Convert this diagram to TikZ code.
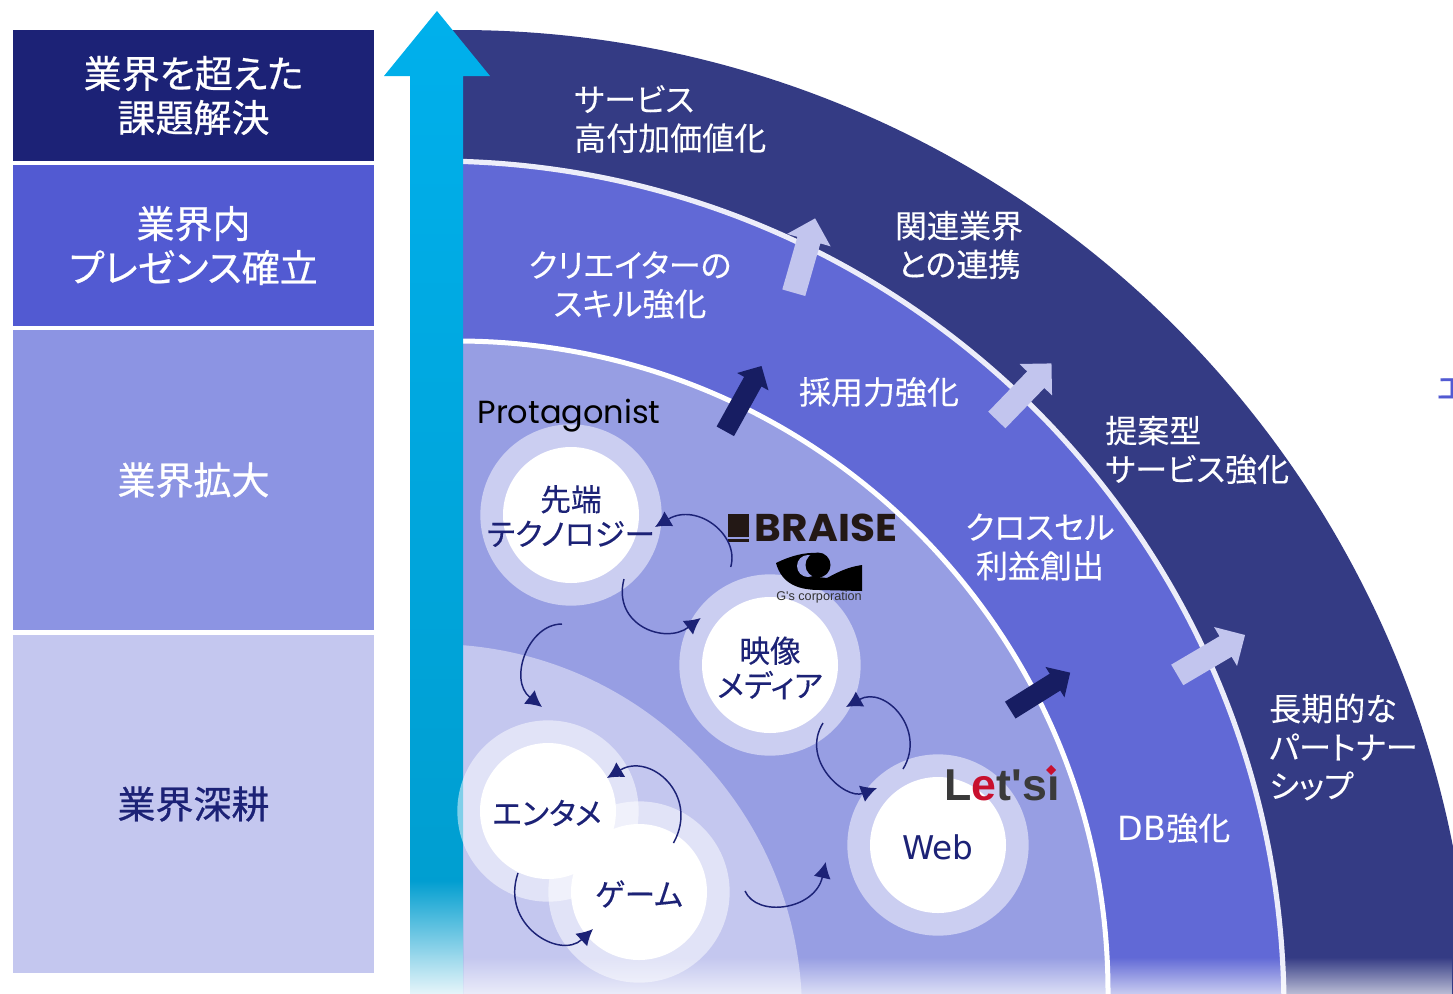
\documentclass[tikz,border=0pt]{standalone}
\usepackage{fontspec}
\usetikzlibrary{arrows.meta, shapes.arrows, fadings}
\setmainfont{Noto Sans CJK JP}[RawFeature=+palt,FakeBold=0.25]
\newfontfamily\stepfont{Noto Sans CJK JP}[RawFeature=+palt,FakeBold=0.6]
\newfontfamily\latinfont{DejaVu Sans}
\newfontfamily\logofont{Poppins}
\newfontfamily\letsfont{Liberation Sans}
\definecolor{navy}{HTML}{1C2276}
\definecolor{bandouter}{HTML}{343B84}
\definecolor{bandmid}{HTML}{6169D6}
\definecolor{bandinner}{HTML}{979EE3}
\definecolor{bandcore}{HTML}{C4C7EF}
\definecolor{stepblue}{HTML}{525AD2}
\definecolor{stepsky}{HTML}{8C94E3}
\definecolor{arrowlight}{HTML}{C2C5EE}
\definecolor{arrowdark}{HTML}{171D62}
\definecolor{risetop}{HTML}{00B0EC}
\definecolor{risefoot}{HTML}{009CCD}
\definecolor{braiseink}{HTML}{231815}
\definecolor{letsgrey}{HTML}{3A3A3A}
\definecolor{letsred}{HTML}{C8102E}
\tikzfading[name=fade south, top color=transparent!100, bottom color=transparent!30]
\tikzfading[name=fade arrow, top color=transparent!100, bottom color=transparent!8]
\tikzset{%
	stepbox/.style={
		minimum width=270.75pt,
		inner sep=0pt,
		text=white,
		align=center,
		font=\stepfont\fontsize{28.5}{33}\selectfont
	},
	bandtext/.style={
		text=white,
		inner sep=0pt,
		font=\fontsize{24}{29}\selectfont
	},
	circtext/.style={
		text=navy,
		inner sep=0pt,
		align=center,
		font=\fontsize{23}{26}\selectfont
	},
	ring/.style={
		circle,
		fill=white,
		fill opacity=.5,
		inner sep=0pt,
		minimum size=136pt
	},
	core/.style={
		circle,
		fill=white,
		inner sep=0pt,
		minimum size=102pt
	},
	growarrow/.style={
		single arrow,
		inner sep=0pt,
		fill=arrowlight,
		text height=17.5pt,
		text depth=0pt,
		minimum width=33.5pt,
		single arrow head extend=8pt,
		single arrow head indent=0pt
	},
	growdark/.style={
		growarrow,
		fill=arrowdark,
		text height=14.5pt,
		minimum width=26.5pt,
		single arrow head extend=6pt
	},
	cyclearrow/.style={
		draw=navy,
		line width=1.1pt,
		-{Latex[length=12pt,width=13pt]}
	},
}
\begin{document}
\begin{tikzpicture}[x=0.75pt,y=-0.75pt]
	\useasboundingbox (0,0) rectangle (1453,993);

	% Left column
	\node[stepbox,fill=navy,minimum height=98.25pt] (stepcross) at (193.5,95.5) {業界を超えた\\課題解決};
	\node[stepbox,fill=stepblue,minimum height=120.75pt] (stepinner) at (193.5,245.5) {業界内\\プレゼンス確立};
	\node[stepbox,fill=stepsky,minimum height=225pt] (stepwide) at (193.5,480) {業界拡大};
	\node[stepbox,fill=bandcore,text=navy,minimum height=253.5pt] (stepdeep) at (193.5,804) {業界深耕};

	% Quarter bands
	\begin{scope}
		\clip (437,0) rectangle (1453,1000);
		\fill[bandouter] (459,1043) circle (1013);
		\filldraw[fill=bandmid,draw=white!88!bandmid,line width=3.9pt] (435,1010) circle (849);
		\filldraw[fill=bandinner,draw=white,line width=3.75pt] (457,992) circle (651);
		\fill[bandcore] (433,1013) circle (369);
	\end{scope}
	\fill[white] (384,993) rectangle (463,1000);

	% Rising arrow
	\shade[top color=risetop,bottom color=risefoot]
		(437,11) -- (490,76) -- (463,76) -- (463,1000) -- (410,1000) -- (410,76) -- (384,76) -- cycle;
	\fill[white,path fading=fade arrow] (410,880) rectangle (463,996);

	% Growth arrows
	\node[growarrow,minimum height=58pt,rotate=74] (growa) at (802.8,261.3) {};
	\node[growarrow,minimum height=59pt,rotate=46] (growb) at (1020,396) {};
	\node[growarrow,minimum height=59pt,rotate=30.5] (growc) at (1206,658) {};
	\node[growdark,minimum height=56pt,rotate=61] (growd) at (741,403) {};
	\node[growdark,minimum height=53pt,rotate=32] (growe) at (1036,694) {};

	% Circles
	\node[ring] (techring) at (571,515) {};
	\node[ring] (mediaring) at (770,665) {};
	\node[ring] (webring) at (938,845) {};
	\node[ring] (entring) at (548,811) {};
	\node[ring] (gamering) at (639,892) {};
	\node[core] (techcore) at (techring) {};
	\node[core] (mediacore) at (mediaring) {};
	\node[core] (webcore) at (webring) {};
	\node[core] (entcore) at (entring) {};
	\node[core] (gamecore) at (gamering) {};

	% Fade at the foot
	\fill[white,path fading=fade south] (463,957) rectangle (1453,996);

	\node[circtext] (techtext) at (571,516) {先端\\テクノロジー};
	\node[circtext] (mediatext) at (770,668) {映像\\メディア};
	\node[circtext,font=\latinfont\fontsize{24.5}{26}\selectfont] (webtext) at (938,847) {Web};
	\node[circtext] (enttext) at (547,813) {エンタメ};
	\node[circtext] (gametext) at (639,894) {ゲーム};

	% Band labels
	\node[bandtext,anchor=west,align=left] (serva) at (574,119) {サービス\\高付加価値化};
	\node[bandtext,align=center] (servb) at (959,245) {関連業界\\との連携};
	\node[bandtext,align=left,anchor=west] (servc) at (1105,450) {提案型\\サービス強化};
	\node[bandtext,align=left,anchor=west] (servd) at (1269,747) {長期的な\\パートナー\\シップ};
	\node[bandtext,align=center] (mida) at (630,285) {クリエイターの\\スキル強化};
	\node[bandtext] (midb) at (879,392) {採用力強化};
	\node[bandtext,align=center] (midc) at (1040,547) {クロスセル\\利益創出};
	\node[bandtext] (midd) at (1174,828) {{\latinfont\fontsize{25}{29}\selectfont DB}強化};
	\node[text=stepblue,inner sep=0pt,font=\fontsize{24}{29}\selectfont] (cutword) at (1452,389) {エ};

	% Logos
	\node[inner sep=0pt,font=\logofont\fontsize{24}{26}\selectfont] (protalogo) at (569,416) {Protagonist};
	\fill[braiseink] (728,514) rectangle (749,537);
	\fill[braiseink] (728,539) rectangle (749,542);
	\node[inner sep=0pt,text=braiseink,font=\logofont\bfseries\fontsize{29}{30}\selectfont,xscale=1.05] (braiselogo) at (826,528) {BRAISE};
	\fill[black] (776,563) .. controls (790,556) and (805,552) .. (818,553) -- (818,577) -- (827,578) .. controls (838,572) and (848,567) .. (862,565) -- (862,591) -- (820,590) .. controls (800,590) and (782,585) .. (776,563);
	\fill[bandinner] (808,566) circle (11);
	\fill[black] (818,565) circle (12.5);
	\node[inner sep=0pt,text=black!80,font=\letsfont\fontsize{9.5}{11}\selectfont] (gslogo) at (819,597) {G's corporation};
	\node[inner sep=0pt,font=\letsfont\bfseries\fontsize{33.5}{36}\selectfont] (letslogo) at (1002,785) {\textcolor{letsgrey}{L}\textcolor{letsred}{e}\textcolor{letsgrey}{t's}\textcolor{letsgrey}{ı}};
	\fill[letsred] (1051,765) -- (1056,770) -- (1051,775) -- (1046,770) -- cycle;

	% Cycle arrows
	\coordinate (techfrom) at (730.7,567);
	\coordinate (techto) at (655,527);
	\coordinate (mediafrom) at (624,579);
	\coordinate (mediato) at (700.7,618);
	\coordinate (entfrom) at (562,624);
	\coordinate (entto) at (542,707);
	\coordinate (backfrom) at (673.5,843);
	\coordinate (backto) at (607,778);
	\coordinate (gamefrom) at (518,873);
	\coordinate (gameto) at (593,929);
	\coordinate (webfrom) at (745,891);
	\coordinate (webto) at (825.7,862);
	\coordinate (upfrom) at (903,769);
	\coordinate (upto) at (846,707);
	\coordinate (downfrom) at (823,723);
	\coordinate (downto) at (877,788);
	\draw[cyclearrow] (techfrom) .. controls (740,535) and (697,502) .. (techto);
	\draw[cyclearrow] (mediafrom) .. controls (612,625) and (665,645) .. (mediato);
	\draw[cyclearrow] (entfrom) .. controls (528,624) and (508,680) .. (entto);
	\draw[cyclearrow] (backfrom) .. controls (700,795) and (650,752) .. (backto);
	\draw[cyclearrow] (gamefrom) .. controls (500,925) and (560,960) .. (gameto);
	\draw[cyclearrow] (webfrom) .. controls (757,918) and (815,910) .. (webto);
	\draw[cyclearrow] (upfrom) .. controls (927,730) and (885,685) .. (upto);
	\draw[cyclearrow] (downfrom) .. controls (800,760) and (845,800) .. (downto);
\end{tikzpicture}
\end{document}
